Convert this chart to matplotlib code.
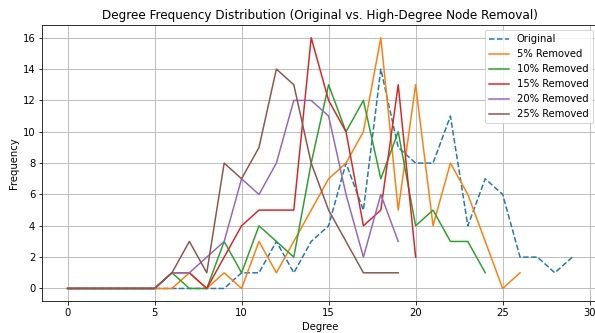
import numpy as np
import matplotlib
matplotlib.use("Agg")
import matplotlib.pyplot as plt

# degree counts (index = degree)
original = [0, 0, 0, 0, 0, 0, 0, 0, 0, 0, 1, 1, 3, 1, 3, 4, 8, 5, 14, 9, 8, 8, 11, 4, 7, 6, 2, 2, 1, 2]
removed_5 = [0, 0, 0, 0, 0, 0, 0, 1, 0, 1, 0, 3, 1, 3, 5, 7, 8, 10, 16, 5, 13, 4, 8, 6, 3, 0, 1]
removed_10 = [0, 0, 0, 0, 0, 0, 1, 0, 0, 3, 1, 4, 3, 2, 8, 13, 10, 12, 7, 10, 4, 5, 3, 3, 1]
removed_15 = [0, 0, 0, 0, 0, 0, 1, 1, 0, 2, 4, 5, 5, 5, 16, 12, 10, 4, 5, 13, 2]
removed_20 = [0, 0, 0, 0, 0, 0, 1, 1, 2, 3, 7, 6, 8, 12, 12, 11, 6, 2, 6, 3]
removed_25 = [0, 0, 0, 0, 0, 0, 1, 3, 1, 8, 7, 9, 14, 13, 8, 5, 3, 1, 1, 1]

series = [removed_5, removed_10, removed_15, removed_20, removed_25]
labels = ['5% Removed', '10% Removed', '15% Removed', '20% Removed', '25% Removed']

fig = plt.figure(figsize=(595 / 72, 333 / 72), dpi=72)
plt.plot(np.arange(len(original)), original, linestyle='--', label='Original')
for vals, lab in zip(series, labels):
    plt.plot(np.arange(len(vals)), vals, label=lab)

plt.title('Degree Frequency Distribution (Original vs. High-Degree Node Removal)')
plt.xlabel('Degree')
plt.ylabel('Frequency')
plt.legend()
plt.grid(True)
# the original picture is cut off a few pixels past the right spine
plt.subplots_adjust(left=42.3 / 595, right=597.5 / 595, bottom=1 - 301 / 333, top=1 - 25.2 / 333)
plt.savefig('out.png', dpi=72)
